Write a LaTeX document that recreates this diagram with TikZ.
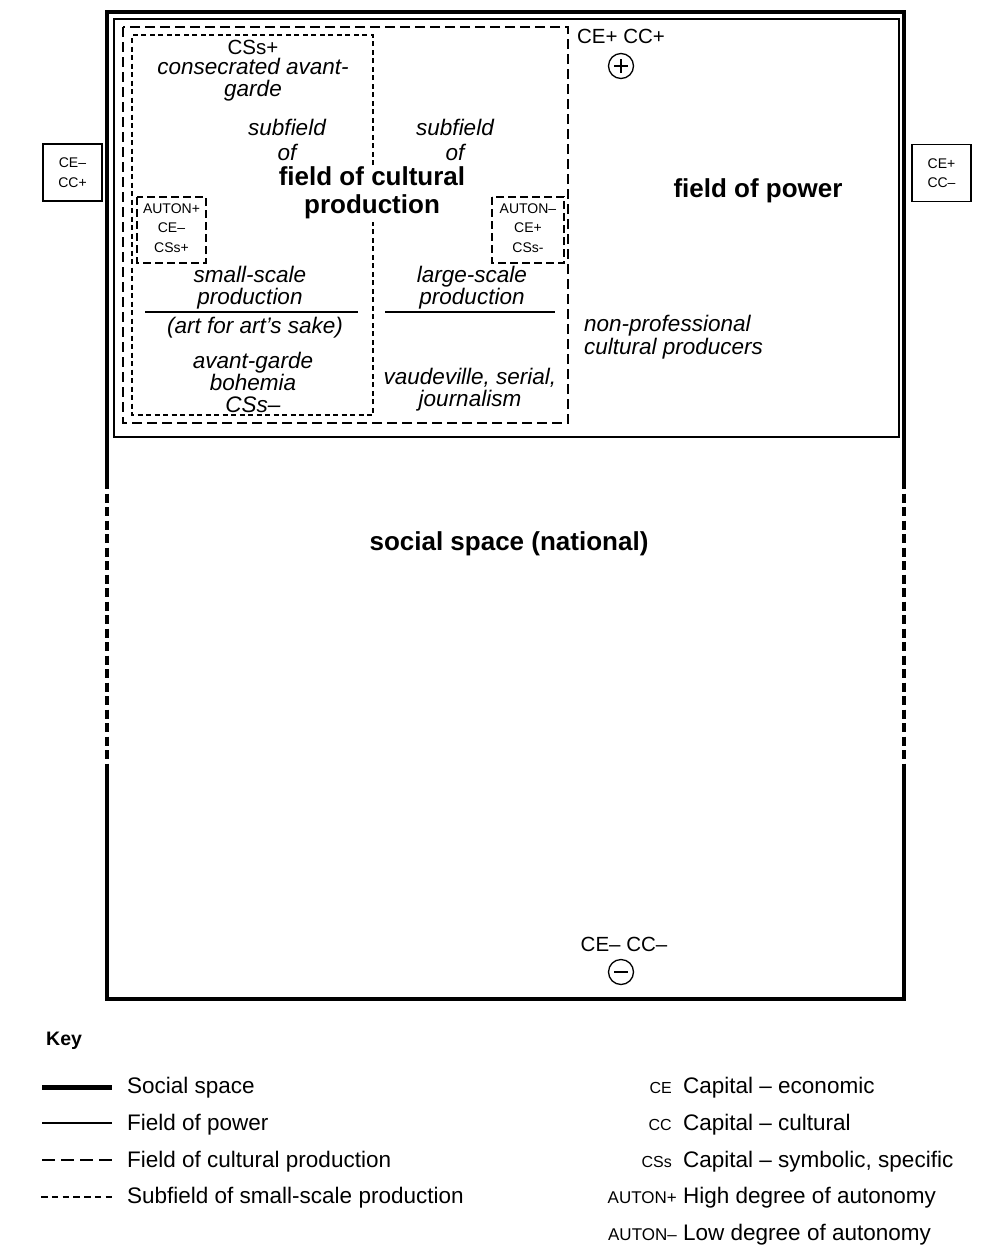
\documentclass[tikz,border=0pt]{standalone}
\usepackage{fontspec}
\setmainfont{Liberation Sans}
\usetikzlibrary{calc}
\begin{document}
\begin{tikzpicture}[x=1pt,y=-1pt,
  ss/.style={line width=4pt},
  ssdash/.style={line width=4pt,dash pattern=on 9pt off 4.5pt},
  fp/.style={line width=1.8pt},
  fcp/.style={line width=1.8pt,dash pattern=on 10pt off 5pt},
  abox/.style={line width=1.8pt,dash pattern=on 8pt off 4pt},
  sub/.style={line width=1.4pt,dash pattern=on 5pt off 3.5pt},
  rule/.style={line width=1.4pt},
  it/.style={font=\fontsize{22.5}{21.8}\selectfont\itshape,align=center,inner sep=0pt},
  itwide/.style={font=\fontsize{22.5}{25}\selectfont\itshape,align=center,inner sep=0pt},
  bft/.style={font=\fontsize{26}{28}\selectfont\bfseries,align=center,inner sep=0pt},
  rm/.style={font=\fontsize{20.5}{22}\selectfont,align=center,inner sep=0pt},
  tinyt/.style={font=\fontsize{14}{19.5}\selectfont,align=center,inner sep=0pt},
  keytxt/.style={font=\fontsize{22.5}{22}\selectfont,anchor=west,inner sep=0pt},
  abbr/.style={font=\fontsize{16}{16}\selectfont,anchor=east,inner sep=0pt},
  sign/.style={circle,draw,line width=1.3pt,minimum size=25pt,inner sep=0pt},
  sidebox/.style={draw,line width=1.6pt,minimum width=59pt,minimum height=57pt,tinyt},
]
\useasboundingbox (0,0) rectangle (999,1248);

% social space
\draw[ss,line join=miter] (107,480) -- (107,12) -- (904,12) -- (904,480);
\draw[ss,line join=miter] (107,765) -- (107,999) -- (904,999) -- (904,765);
\draw[ssdash] (107,480) -- (107,765);
\draw[ssdash] (904,480) -- (904,765);

% field of power
\draw[fp] (114,19) rectangle (899,437);

% field of cultural production
\draw[fcp] (123,27) rectangle (568,423);

% subfield of small-scale production
\draw[sub] (373,165) -- (373,35) -- (132,35) -- (132,415) -- (373,415) -- (373,222);

% autonomy boxes
\draw[abox] (137,197) rectangle (206,263);
\draw[abox] (492,197) rectangle (564,263);

% rules
\draw[rule] (145,312) -- (358,312);
\draw[rule] (385,312) -- (555,312);

% side boxes
\node[sidebox] (lbox) at (72.5,172.5) {CE–\\CC+};
\node[sidebox] (rbox) at (941.5,173) {CE+\\CC–};

% texts
\node[rm] (cssp) at (253,47) {CSs+};
\node[it] (cav) at (253,80) {consecrated avant-\\garde};
\node[itwide] (subA) at (287,140) {subfield\\of};
\node[itwide] (subB) at (455,140) {subfield\\of};
\node[bft] (fcpt) at (372,193) {field of cultural\\production};
\node[tinyt] (autp) at (171.5,228) {AUTON+\\CE–\\CSs+};
\node[tinyt] (autm) at (528,228) {AUTON–\\CE+\\CSs-};
\node[it] (ssp) at (250,287.5) {small-scale\\production};
\node[it] (afa) at (255,328) {(art for art's sake)};
\node[it] (avg) at (253,382.5) {avant-garde\\bohemia\\CSs–};
\node[it] (lsp) at (472,287.5) {large-scale\\production};
\node[it] (vau) at (470,390) {vaudeville, serial,\\journalism};
\node[it,align=left,anchor=west,font=\fontsize{22.5}{23}\selectfont\itshape] (npc) at (584,337.5) {non-professional\\cultural producers};
\node[bft] (fop) at (758,191) {field of power};
\node[rm] (cep) at (621,36) {CE+ CC+};
\node[sign] (plus) at (621,66) {};
\draw[line width=1.6pt] ([xshift=-7pt]plus.center) -- ([xshift=7pt]plus.center);
\draw[line width=1.6pt] ([yshift=-7pt]plus.center) -- ([yshift=7pt]plus.center);
\node[bft] (soc) at (509,544) {social space (national)};
\node[rm] (cem) at (624,944) {CE– CC–};
\node[sign] (minus) at (621,972) {};
\draw[line width=1.6pt] ([xshift=-7pt]minus.center) -- ([xshift=7pt]minus.center);

% key
\node[font=\fontsize{19.5}{20}\selectfont\bfseries,anchor=west,inner sep=0pt] (key) at (46,1041) {Key};
\coordinate (k1a) at (42,1087); \coordinate (k1b) at (112,1087);
\coordinate (k2a) at (42,1123); \coordinate (k2b) at (112,1123);
\coordinate (k3a) at (42,1160); \coordinate (k3b) at (112,1160);
\coordinate (k4a) at (41,1197); \coordinate (k4b) at (112,1197);
\draw[line width=5pt] (k1a) -- (k1b);
\draw[line width=1.8pt] (k2a) -- (k2b);
\draw[line width=1.8pt,dash pattern=on 13pt off 6pt] (k3a) -- (k3b);
\draw[line width=1.6pt,dash pattern=on 6.5pt off 4.25pt] (k4a) -- (k4b);
\node[keytxt] (l1) at (127,1088) {Social space};
\node[keytxt] (l2) at (127,1125) {Field of power};
\node[keytxt] (l3) at (127,1162) {Field of cultural production};
\node[keytxt] (l4) at (127,1198) {Subfield of small-scale production};

\node[abbr] (a1) at (672,1088) {CE};
\node[abbr] (a2) at (672,1125) {CC};
\node[abbr] (a3) at (672,1162) {CSs};
\node[abbr,font=\fontsize{17}{17}\selectfont] (a4) at (677,1198) {AUTON+};
\node[abbr,font=\fontsize{17}{17}\selectfont] (a5) at (677,1235) {AUTON–};
\node[keytxt] (r1) at (683,1088) {Capital – economic};
\node[keytxt] (r2) at (683,1125) {Capital – cultural};
\node[keytxt] (r3) at (683,1162) {Capital – symbolic, specific};
\node[keytxt] (r4) at (683,1198) {High degree of autonomy};
\node[keytxt] (r5) at (683,1235) {Low degree of autonomy};
\end{tikzpicture}
\end{document}
